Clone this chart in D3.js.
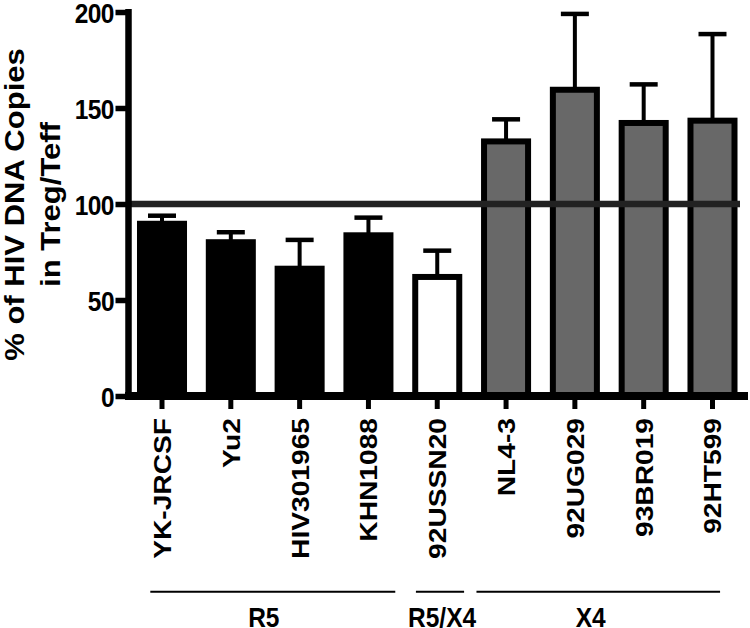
<!DOCTYPE html>
<html>
<head>
<meta charset="utf-8">
<title>hiv_treg_teff_bars</title>
<script src="https://d3js.org/d3.v7.min.js"></script>
<style>
  body { margin: 0; background: #fff; }
  text { font-family: "Liberation Sans", Arial, sans-serif; font-weight: bold; fill: #000; }
</style>
</head>
<body>
<svg id="chart" width="750" height="628"></svg>
<script>
// values
const strains = ["YK-JRCSF", "Yu2", "HIV301965", "KHN1088", "92USSN20",
                 "NL4-3", "92UG029", "93BR019", "92HT599"]
const means = [89.7, 80.1, 66.3, 83.7, 62.0, 132.6, 159.5, 142.2, 143.4]
const errors = [4.2, 5.2, 15.0, 9.2, 13.7, 11.5, 39.5, 20.1, 45.1]
const tropism = ["R5", "R5", "R5", "R5", "R5/X4", "X4", "X4", "X4", "X4"]
const groupNames = ["R5", "R5/X4", "X4"]
const yTicks = [0, 50, 100, 150, 200]
const refValue = 100
const titleLines = ["% of HIV DNA Copies", "in Treg/Teff"]

const svg = d3.select("#chart")
const stretch = 1.15   // text in the figure is taller than wide

const x = d3.scaleBand()
    .domain(strains)
    .range([127.6, 746.9])
    .paddingInner(0.273)
    .paddingOuter(0.1365)

const y = d3.scaleLinear()
    .domain([0, 200])
    .range([396, 12])

const fill = d3.scaleOrdinal()
    .domain(groupNames)
    .range(["#000000", "#ffffff", "#686868"])

const rows = strains.map((s, i) => ({ name: s, mean: means[i], err: errors[i], group: tropism[i] }))

// error bars (upper only)
const eb = svg.append("g")
eb.selectAll("line.stem").data(rows).enter().append("line")
    .attr("x1", d => x(d.name) + x.bandwidth() / 2)
    .attr("x2", d => x(d.name) + x.bandwidth() / 2)
    .attr("y1", d => y(d.mean))
    .attr("y2", d => y(d.mean + d.err))
    .attr("stroke", "#000").attr("stroke-width", 4)
eb.selectAll("line.cap").data(rows).enter().append("line")
    .attr("x1", d => x(d.name) + x.bandwidth() / 2 - 14)
    .attr("x2", d => x(d.name) + x.bandwidth() / 2 + 14)
    .attr("y1", d => y(d.mean + d.err))
    .attr("y2", d => y(d.mean + d.err))
    .attr("stroke", "#000").attr("stroke-width", 4.5)

// bars
svg.append("g").selectAll("rect").data(rows).enter().append("rect")
    .attr("x", d => x(d.name) + 3)
    .attr("width", x.bandwidth() - 6)
    .attr("y", d => y(d.mean))
    .attr("height", d => y(0) - y(d.mean))
    .attr("fill", d => fill(d.group))
    .attr("stroke", "#000")
    .attr("stroke-width", 6)

// reference line at 100%
svg.append("line")
    .attr("x1", 128).attr("x2", 740)
    .attr("y1", y(refValue)).attr("y2", y(refValue))
    .attr("stroke", "#222").attr("stroke-width", 6.5)

// y axis
const yAxis = svg.append("g")
    .attr("transform", "translate(128.5,0)")
    .call(d3.axisLeft(y).tickValues(yTicks).tickSize(13).tickPadding(0))
yAxis.select(".domain").remove()
yAxis.append("line")
    .attr("x1", 0).attr("x2", 0)
    .attr("y1", y(200) - 3).attr("y2", y(0) + 3)
    .attr("stroke", "#000").attr("stroke-width", 6.5)
yAxis.selectAll(".tick line").attr("stroke", "#000").attr("stroke-width", 5.5)
yAxis.selectAll(".tick text")
    .attr("x", null).attr("dy", null)
    .attr("transform", `translate(-14.5,10) scale(1,${stretch})`)
    .attr("text-anchor", "end")
    .attr("font-size", 24.5)
    .style("letter-spacing", "-0.5px")

// x axis
const xAxis = svg.append("g")
    .attr("transform", `translate(0,${y(0)})`)
    .call(d3.axisBottom(x).tickSize(13).tickPadding(0))
xAxis.select(".domain").remove()
xAxis.append("line")
    .attr("x1", 125).attr("x2", 748)
    .attr("y1", 0).attr("y2", 0)
    .attr("stroke", "#000").attr("stroke-width", 8)
xAxis.selectAll(".tick line").attr("stroke", "#000").attr("stroke-width", 5)
xAxis.selectAll(".tick text")
    .attr("y", null).attr("dy", null)
    .attr("transform", `translate(9,22) rotate(-90) scale(${stretch},1)`)
    .attr("text-anchor", "end")
    .attr("font-size", 24.5)

// tropism groups under the axis
const groupSpan = {            // line extents and label centre in band units
    "R5":    { from: -0.17, to: 3.39, label: 1.48 },
    "R5/X4": { from: 3.69, to: 4.39, label: 4.07 },
    "X4":    { from: 4.57, to: 8.11, label: 6.23 }
}
const step = x.step()
const x0 = x(strains[0]) + x.bandwidth() / 2
const grp = svg.append("g")
grp.selectAll("line").data(groupNames).enter().append("line")
    .attr("x1", g => x0 + groupSpan[g].from * step)
    .attr("x2", g => x0 + groupSpan[g].to * step)
    .attr("y1", 591.7).attr("y2", 591.7)
    .attr("stroke", "#000").attr("stroke-width", 2)
grp.selectAll("text").data(groupNames).enter().append("text")
    .attr("transform", g => `translate(${x0 + groupSpan[g].label * step},627) scale(1,${stretch})`)
    .attr("text-anchor", "middle")
    .attr("font-size", 24.5)
    .text(g => g)

// y title
svg.append("g").selectAll("text").data(titleLines).enter().append("text")
    .attr("transform", (t, i) => `translate(${i === 0 ? 24 : 60},204.5) rotate(-90) scale(${stretch},1)`)
    .attr("text-anchor", "middle")
    .attr("font-size", 27)
    .text(t => t)
</script>
</body>
</html>
